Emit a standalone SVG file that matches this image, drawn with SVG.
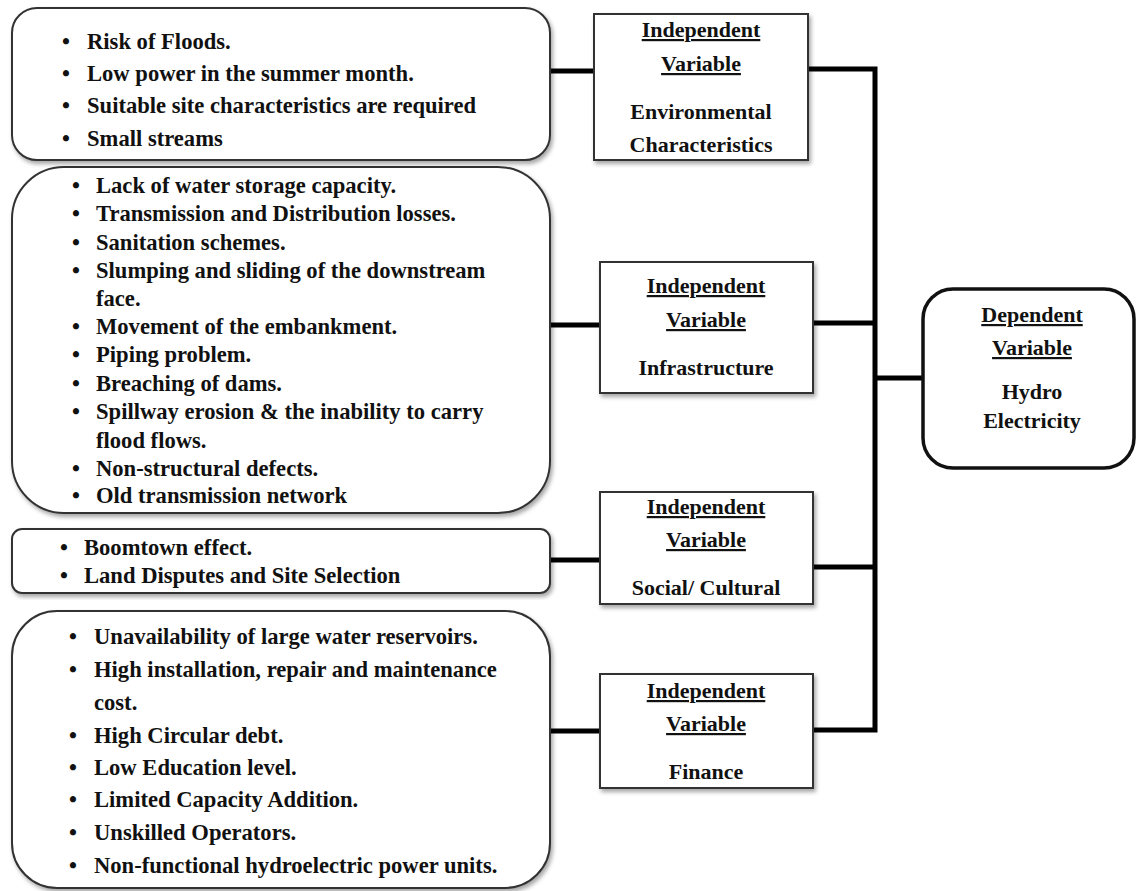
<svg xmlns="http://www.w3.org/2000/svg" width="1137" height="891" viewBox="0 0 1137 891">
<defs>
<filter id="sh" x="-5%" y="-5%" width="115%" height="115%">
<feDropShadow dx="2" dy="3" stdDeviation="2" flood-color="#000" flood-opacity="0.35"/>
</filter>
<style>
.box{fill:#fff;stroke:#333;stroke-width:2;filter:url(#sh)}
.dep{fill:#fff;stroke:#111;stroke-width:3.5}
.t{font-family:"Liberation Serif","Times New Roman",serif;font-weight:bold;font-size:22px;fill:#111}
.l{font-size:22.6px}
.c{text-anchor:middle}
.u{text-decoration:underline}
.conn{fill:none;stroke:#000;stroke-width:5;stroke-linejoin:miter;stroke-linecap:butt}
</style>
</defs>
<rect width="1137" height="891" fill="#fff"/>
<g id="connectors">
<line class="conn" x1="550" y1="71" x2="594" y2="71"/>
<line class="conn" x1="550" y1="325" x2="600" y2="325"/>
<line class="conn" x1="550" y1="560" x2="600" y2="560"/>
<line class="conn" x1="550" y1="731" x2="600" y2="731"/>
<polyline class="conn" points="808,69 875,69 875,730 813,730"/>
<line class="conn" x1="813" y1="323" x2="875" y2="323"/>
<line class="conn" x1="813" y1="567" x2="875" y2="567"/>
<line class="conn" x1="875" y1="378" x2="923" y2="378"/>
</g>
<g id="env-list">
<rect class="box" x="12" y="8" width="538" height="152" rx="25"/>
<g class="t l">
<text x="62" y="49">•</text><text x="87" y="49">Risk of Floods.</text>
<text x="62" y="81">•</text><text x="87" y="81">Low power in the summer month.</text>
<text x="62" y="113">•</text><text x="87" y="113">Suitable site characteristics are required</text>
<text x="62" y="146">•</text><text x="87" y="146">Small streams</text>
</g>
</g>
<g id="infra-list">
<rect class="box" x="12" y="167" width="538" height="346" rx="52"/>
<g class="t l">
<text x="72" y="193">•</text><text x="96" y="193">Lack of water storage capacity.</text>
<text x="72" y="221">•</text><text x="96" y="221">Transmission and Distribution losses.</text>
<text x="72" y="250">•</text><text x="96" y="250">Sanitation schemes.</text>
<text x="72" y="278">•</text><text x="96" y="278">Slumping and sliding of the downstream</text>
<text x="96" y="306">face.</text>
<text x="72" y="334">•</text><text x="96" y="334">Movement of the embankment.</text>
<text x="72" y="362">•</text><text x="96" y="362">Piping problem.</text>
<text x="72" y="391">•</text><text x="96" y="391">Breaching of dams.</text>
<text x="72" y="419">•</text><text x="96" y="419">Spillway erosion &amp; the inability to carry</text>
<text x="96" y="448">flood flows.</text>
<text x="72" y="476">•</text><text x="96" y="476">Non-structural defects.</text>
<text x="72" y="503">•</text><text x="96" y="503">Old transmission network</text>
</g>
</g>
<g id="social-list">
<rect class="box" x="12" y="529" width="538" height="64" rx="10"/>
<g class="t l">
<text x="60" y="555">•</text><text x="84" y="555">Boomtown effect.</text>
<text x="60" y="583">•</text><text x="84" y="583">Land Disputes and Site Selection</text>
</g>
</g>
<g id="finance-list">
<rect class="box" x="12" y="611" width="538" height="277" rx="45"/>
<g class="t l">
<text x="69" y="644">•</text><text x="94" y="644">Unavailability of large water reservoirs.</text>
<text x="69" y="677">•</text><text x="94" y="677">High installation, repair and maintenance</text>
<text x="94" y="710">cost.</text>
<text x="69" y="743">•</text><text x="94" y="743">High Circular debt.</text>
<text x="69" y="775">•</text><text x="94" y="775">Low Education level.</text>
<text x="69" y="807">•</text><text x="94" y="807">Limited Capacity Addition.</text>
<text x="69" y="840">•</text><text x="94" y="840">Unskilled Operators.</text>
<text x="69" y="873">•</text><text x="94" y="873">Non-functional hydroelectric power units.</text>
</g>
</g>
<g id="iv-environmental">
<rect class="box" x="594" y="14" width="214" height="146"/>
<g class="t c">
<text class="u" x="701" y="37">Independent</text>
<text class="u" x="701" y="71">Variable</text>
<text x="701" y="119">Environmental</text>
<text x="701" y="152">Characteristics</text>
</g>
</g>
<g id="iv-infrastructure">
<rect class="box" x="600" y="262" width="213" height="131"/>
<g class="t c">
<text class="u" x="706" y="293">Independent</text>
<text class="u" x="706" y="327">Variable</text>
<text x="706" y="375">Infrastructure</text>
</g>
</g>
<g id="iv-social">
<rect class="box" x="600" y="492" width="213" height="112"/>
<g class="t c">
<text class="u" x="706" y="514">Independent</text>
<text class="u" x="706" y="547">Variable</text>
<text x="706" y="595">Social/ Cultural</text>
</g>
</g>
<g id="iv-finance">
<rect class="box" x="600" y="674" width="213" height="114"/>
<g class="t c">
<text class="u" x="706" y="698">Independent</text>
<text class="u" x="706" y="731">Variable</text>
<text x="706" y="779">Finance</text>
</g>
</g>
<g id="dependent">
<rect class="dep" x="923" y="289" width="211" height="179" rx="30"/>
<g class="t c">
<text class="u" x="1032" y="322">Dependent</text>
<text class="u" x="1032" y="355">Variable</text>
<text x="1032" y="399">Hydro</text>
<text x="1032" y="428">Electricity</text>
</g>
</g>
</svg>
